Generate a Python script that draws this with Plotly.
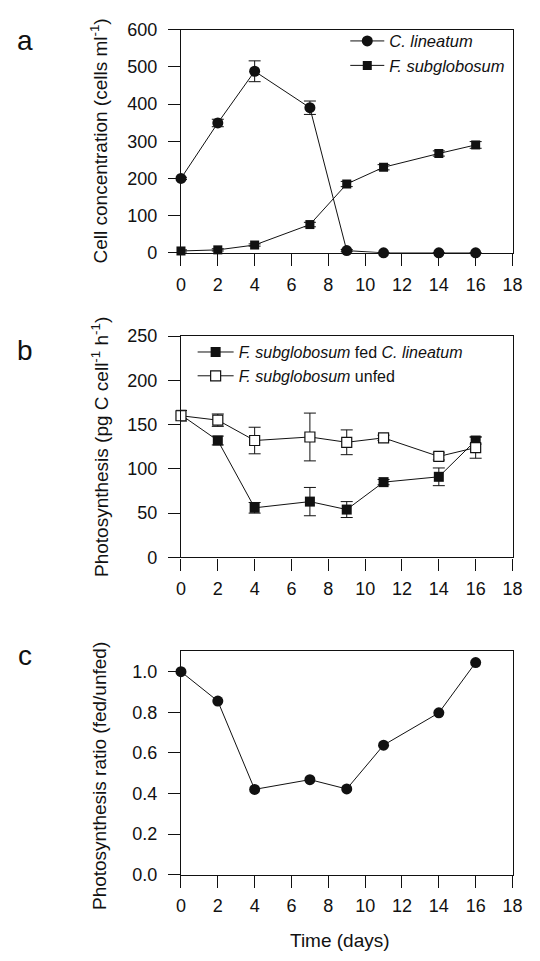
import plotly.graph_objects as go

# ---------------- data ----------------
days = [0, 2, 4, 7, 9, 11, 14, 16]

# panel a: cell concentration (cells ml-1)
c_lineatum = [200, 349, 488, 390, 6, 0, 0, 0]
c_lineatum_err = [3, 10, 28, 18, 3, 0, 0, 0]
f_subglob = [5, 8, 21, 76, 185, 230, 267, 290]
f_subglob_err = [3, 3, 3, 6, 7, 7, 7, 9]

# panel b: photosynthesis (pg C cell-1 h-1)
fed = [161, 132, 56, 63, 54, 85, 91, 132]
fed_err = [5, 5, 6, 16, 9, 3, 10, 4]
unfed = [160, 155, 132, 136, 130, 135, 114, 124]
unfed_err = [6, 7, 15, 27, 14, 3, 4, 12]

# panel c: photosynthesis ratio (fed/unfed)
ratio = [1.00, 0.855, 0.42, 0.468, 0.422, 0.638, 0.797, 1.045]

x_ticks = [0, 2, 4, 6, 8, 10, 12, 14, 16, 18]

# ---------------- figure ----------------
W, H = 540, 961
FONT = "Arial, Liberation Sans, sans-serif"
INK = "#111111"

def py(px):
    return 1 - px / H

def pxx(px):
    return px / W

fig = go.Figure()

def err(vals):
    return dict(type="data", array=vals, visible=True, color=INK, thickness=1, width=6)

# panel a
fig.add_trace(go.Scatter(x=days, y=c_lineatum, error_y=err(c_lineatum_err), name="<i>C. lineatum</i>",
                         mode="lines+markers", line=dict(color=INK, width=1),
                         marker=dict(symbol="circle", size=11, color=INK),
                         xaxis="x", yaxis="y", legend="legend", cliponaxis=False))
fig.add_trace(go.Scatter(x=days, y=f_subglob, error_y=err(f_subglob_err), name="<i>F. subglobosum</i>",
                         mode="lines+markers", line=dict(color=INK, width=1),
                         marker=dict(symbol="square", size=9, color=INK),
                         xaxis="x", yaxis="y", legend="legend", cliponaxis=False))
# panel b
fig.add_trace(go.Scatter(x=days, y=fed, error_y=err(fed_err), name="<i>F. subglobosum</i> fed <i>C. lineatum</i>",
                         mode="lines+markers", line=dict(color=INK, width=1),
                         marker=dict(symbol="square", size=10, color=INK),
                         xaxis="x2", yaxis="y2", legend="legend2", cliponaxis=False))
fig.add_trace(go.Scatter(x=days, y=unfed, error_y=err(unfed_err), name="<i>F. subglobosum</i> unfed",
                         mode="lines+markers", line=dict(color=INK, width=1),
                         marker=dict(symbol="square", size=10, color="white", line=dict(color=INK, width=1.2)),
                         xaxis="x2", yaxis="y2", legend="legend2", cliponaxis=False))
# panel c
fig.add_trace(go.Scatter(x=days, y=ratio, name="ratio", showlegend=False,
                         mode="lines+markers", line=dict(color=INK, width=1),
                         marker=dict(symbol="circle", size=11, color=INK),
                         xaxis="x3", yaxis="y3", cliponaxis=False))

x_dom = [pxx(181), pxx(522)]
panels = {
    "": (20, 248, [0, 600], 100, None),
    "2": (333, 559, [0, 250], 50, None),
    "3": (655, 883, [0, 1.1], 0.2, ".1f"),
}

def xa(anchor):
    return dict(domain=x_dom, range=[0, 18], tickvals=x_ticks, showline=True, linecolor=INK, linewidth=1.4,
                mirror=True, ticks="outside", ticklen=12, tickwidth=1.4, tickcolor=INK,
                showgrid=False, zeroline=False, anchor=anchor, ticklabelstandoff=3,
                tickfont=dict(family=FONT, size=18, color=INK))

def ya(dom, rng, dt, fmt, anchor):
    d = dict(domain=dom, range=rng, dtick=dt, tick0=0, showline=True, linecolor=INK, linewidth=1.4,
             mirror=True, ticks="outside", ticklen=12, tickwidth=1.4, tickcolor=INK,
             showgrid=False, zeroline=False, anchor=anchor, ticklabelstandoff=7,
             tickfont=dict(family=FONT, size=18, color=INK))
    if fmt:
        d["tickformat"] = fmt
    return d

lay = {}
for k, (top, bot, rng, dt, fmt) in panels.items():
    lay["xaxis" + k] = xa("y" + k)
    lay["yaxis" + k] = ya([py(bot), py(top)], rng, dt, fmt, "x" + k)

annotations = []
# panel letters
for letter, ypx in [("a", 31), ("b", 348), ("c", 659)]:
    annotations.append(dict(text=letter, x=pxx(21), y=py(ypx), xref="paper", yref="paper",
                            showarrow=False, xanchor="center", yanchor="middle",
                            font=dict(family=FONT, size=28, color=INK)))
# y titles
for txt, ypx in [("Cell concentration (cells ml<sup>-1</sup>)", 134),
                 ("Photosynthesis (pg C cell<sup>-1</sup> h<sup>-1</sup>)", 446),
                 ("Photosynthesis ratio (fed/unfed)", 782)]:
    annotations.append(dict(text=txt, x=pxx(97), y=py(ypx), xref="paper", yref="paper",
                            showarrow=False, xanchor="center", yanchor="middle", textangle=-90,
                            font=dict(family=FONT, size=19, color=INK)))
annotations.append(dict(text="Time (days)", x=pxx(345), y=py(950), xref="paper", yref="paper",
                        showarrow=False, xanchor="center", yanchor="middle",
                        font=dict(family=FONT, size=19, color=INK)))

fig.update_layout(
    **lay,
    width=W, height=H,
    margin=dict(l=0, r=0, t=0, b=0),
    paper_bgcolor="white", plot_bgcolor="white",
    font=dict(family=FONT, color=INK),
    annotations=annotations,
    legend=dict(x=pxx(350), y=py(14), xanchor="left", yanchor="top", bgcolor="rgba(0,0,0,0)",
                font=dict(family=FONT, size=16.5, color=INK), tracegroupgap=0, itemwidth=34),
    legend2=dict(x=pxx(193), y=py(332), xanchor="left", yanchor="top", bgcolor="rgba(0,0,0,0)",
                 font=dict(family=FONT, size=16, color=INK), tracegroupgap=0, itemwidth=36),
    showlegend=True,
)

fig.write_html("out.html", config={"displayModeBar": False},
               post_script="document.body.style.margin='0';document.body.style.overflow='hidden';")
